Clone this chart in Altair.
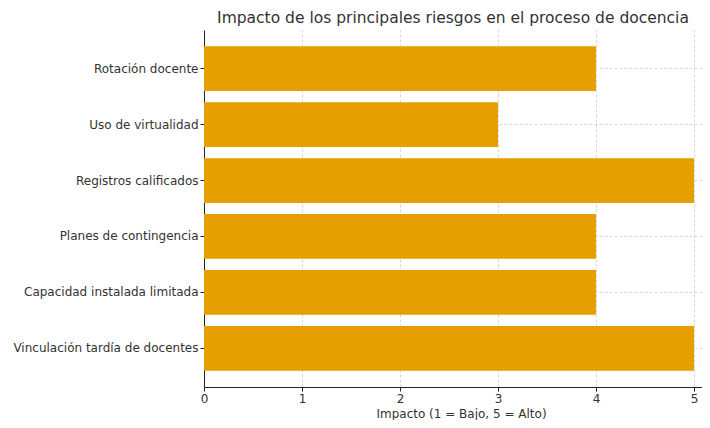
import altair as alt
import pandas as pd

categorias = [
    "Rotación docente",
    "Uso de virtualidad",
    "Registros calificados",
    "Planes de contingencia",
    "Capacidad instalada limitada",
    "Vinculación tardía de docentes",
]
impacto = [4, 3, 5, 4, 4, 5]
ticks_x = [0, 1, 2, 3, 4, 5]

df = pd.DataFrame({"riesgo": categorias, "impacto": impacto})

FONT = "DejaVu Sans"
TXT = "#333333"

chart = (
    alt.Chart(df)
    .mark_bar(color="#E69F00")
    .encode(
        x=alt.X(
            "impacto:Q",
            scale=alt.Scale(domain=[0, 5.082], nice=False, zero=True),
            axis=alt.Axis(
                values=ticks_x,
                title="Impacto (1 = Bajo, 5 = Alto)",
                titleX=257,
                titleY=30,
                titleBaseline="alphabetic",
                format="d",
                labelFlush=False,
            ),
        ),
        y=alt.Y(
            "riesgo:N",
            sort=categorias,
            scale=alt.Scale(paddingInner=0.2, paddingOuter=0.29),
            axis=alt.Axis(title=None, bandPosition=0.5, labelLimit=400),
        ),
    )
    .properties(
        width=498,
        height=357,
        padding={"left": 196, "top": 22, "right": 0, "bottom": 33},
        autosize=alt.AutoSizeParams(type="none"),
        title=alt.TitleParams(
            "Impacto de los principales riesgos en el proceso de docencia",
            fontSize=15.5,
            font=FONT,
            fontWeight="normal",
            color=TXT,
            anchor="middle",
            offset=4,
        ),
    )
    .configure_view(stroke=None)
    .configure_axis(
        labelFont=FONT,
        titleFont=FONT,
        labelFontSize=12,
        titleFontSize=12,
        titleFontWeight="normal",
        labelColor=TXT,
        titleColor=TXT,
        domainColor="#222222",
        domainWidth=1,
        tickColor="#222222",
        tickSize=4,
        labelPadding=2,
        grid=True,
        gridColor="#cccccc",
        gridDash=[3, 2],
        gridWidth=0.8,
    )
    .configure_axisX(labelAngle=0)
)

chart.save("out.html", embed_options={"renderer": "svg", "actions": False})
